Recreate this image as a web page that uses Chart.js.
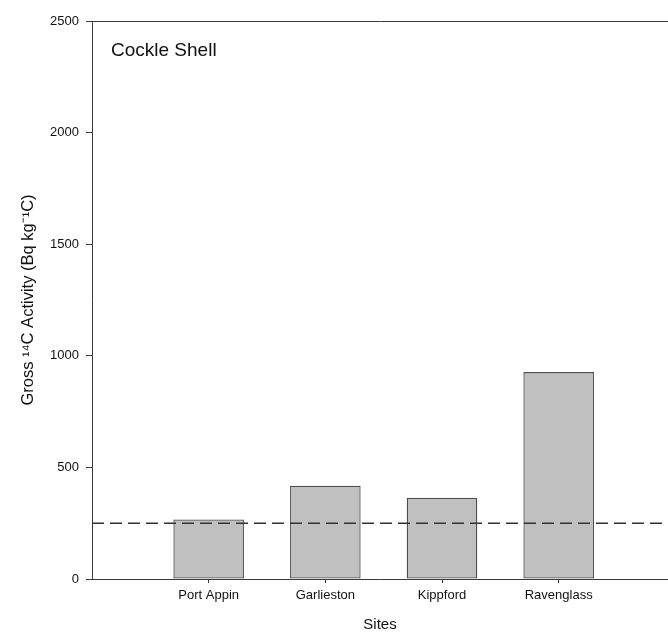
<!DOCTYPE html>
<html>
<head>
<meta charset="utf-8">
<script src="https://cdn.jsdelivr.net/npm/chart.js@4/dist/chart.umd.min.js"></script>
<style>
html,body{margin:0;padding:0;background:#fff;overflow:hidden;}
#wrap{width:668px;height:632px;position:relative;}
</style>
</head>
<body>
<div id="wrap"><canvas id="c" width="668" height="632"></canvas></div>
<script>
// ---- data ----
const categories = ['Port Appin', 'Garlieston', 'Kippford', 'Ravenglass'];
const activity = [267, 418, 364, 927];
const referenceLevel = 250;
const yTicks = [0, 500, 1000, 1500, 2000, 2500];
const panelLabel = 'Cockle Shell';
const yTitle = 'Gross \u00B9\u2074C Activity (Bq kg\u207B\u00B9C)';
const xTitle = 'Sites';

const X_MAX = 4.937;
const FONT = '"Liberation Sans", Arial, Helvetica, sans-serif';
const AXIS = '#3a3a3a';

const barData = activity.map((v, i) => ({x: i + 1, y: v}));
const refData = [{x: 0, y: referenceLevel}, {x: X_MAX, y: referenceLevel}];

const labelPlugin = {
  id: 'panelLabel',
  afterDraw(chart) {
    const ctx = chart.ctx, a = chart.chartArea;
    ctx.save();
    ctx.font = '19px ' + FONT;
    ctx.fillStyle = '#111';
    ctx.textAlign = 'left';
    ctx.textBaseline = 'alphabetic';
    ctx.fillText(panelLabel, a.left + 19, a.top + 35);
    ctx.restore();
  }
};

new Chart(document.getElementById('c'), {
  type: 'bar',
  data: {
    datasets: [
      {
        type: 'line',
        data: refData,
        borderColor: '#333',
        borderWidth: 1.5,
        borderDash: [12, 6],
        pointRadius: 0,
        fill: false,
        clip: false,
        order: 0
      },
      {
        type: 'bar',
        data: barData,
        backgroundColor: '#c0c0c0',
        borderColor: '#4e4e4e',
        borderWidth: 1.3,
        borderSkipped: false,
        barPercentage: 0.605,
        categoryPercentage: 1,
        order: 1
      }
    ]
  },
  options: {
    responsive: false,
    animation: false,
    layout: {padding: {top: 21, right: 0, bottom: 0, left: 0}},
    plugins: {legend: {display: false}, tooltip: {enabled: false}},
    scales: {
      x: {
        type: 'linear',
        position: 'bottom',
        offset: false,
        min: 0,
        max: X_MAX,
        afterBuildTicks: s => { s.ticks = categories.map((c, i) => ({value: i + 1})); },
        afterFit: s => { s.height = 53; },
        ticks: {
          callback: v => categories[v - 1] || '',
          color: '#111',
          font: {family: FONT, size: 13},
          padding: 5,
          maxRotation: 0,
          autoSkip: false
        },
        grid: {display: true, offset: false, drawOnChartArea: false, drawTicks: true, tickLength: 4, color: AXIS, lineWidth: 1},
        border: {display: true, color: AXIS, width: 1},
        title: {display: true, text: xTitle, color: '#111', font: {family: FONT, size: 15, lineHeight: 1}, padding: {top: 0, bottom: 0}}
      },
      x2: {
        type: 'linear',
        position: 'top',
        offset: false,
        min: 0,
        max: X_MAX,
        afterFit: s => { s.height = 0; },
        ticks: {display: false},
        grid: {display: false, offset: false, drawTicks: false},
        border: {display: true, color: AXIS, width: 1}
      },
      y: {
        min: 0,
        max: 2500,
        afterBuildTicks: s => { s.ticks = yTicks.map(v => ({value: v})); },
        afterFit: s => { s.width = 92; },
        ticks: {callback: v => String(v), color: '#111', font: {family: FONT, size: 13}, padding: 7},
        grid: {display: true, drawOnChartArea: false, drawTicks: true, tickLength: 6, color: AXIS, lineWidth: 1},
        border: {display: true, color: AXIS, width: 1},
        title: {display: true, text: yTitle, color: '#111', font: {family: FONT, size: 16.5, lineHeight: 1.2}, padding: {top: 19, bottom: 0}}
      }
    }
  },
  plugins: [labelPlugin]
});
</script>
</body>
</html>
